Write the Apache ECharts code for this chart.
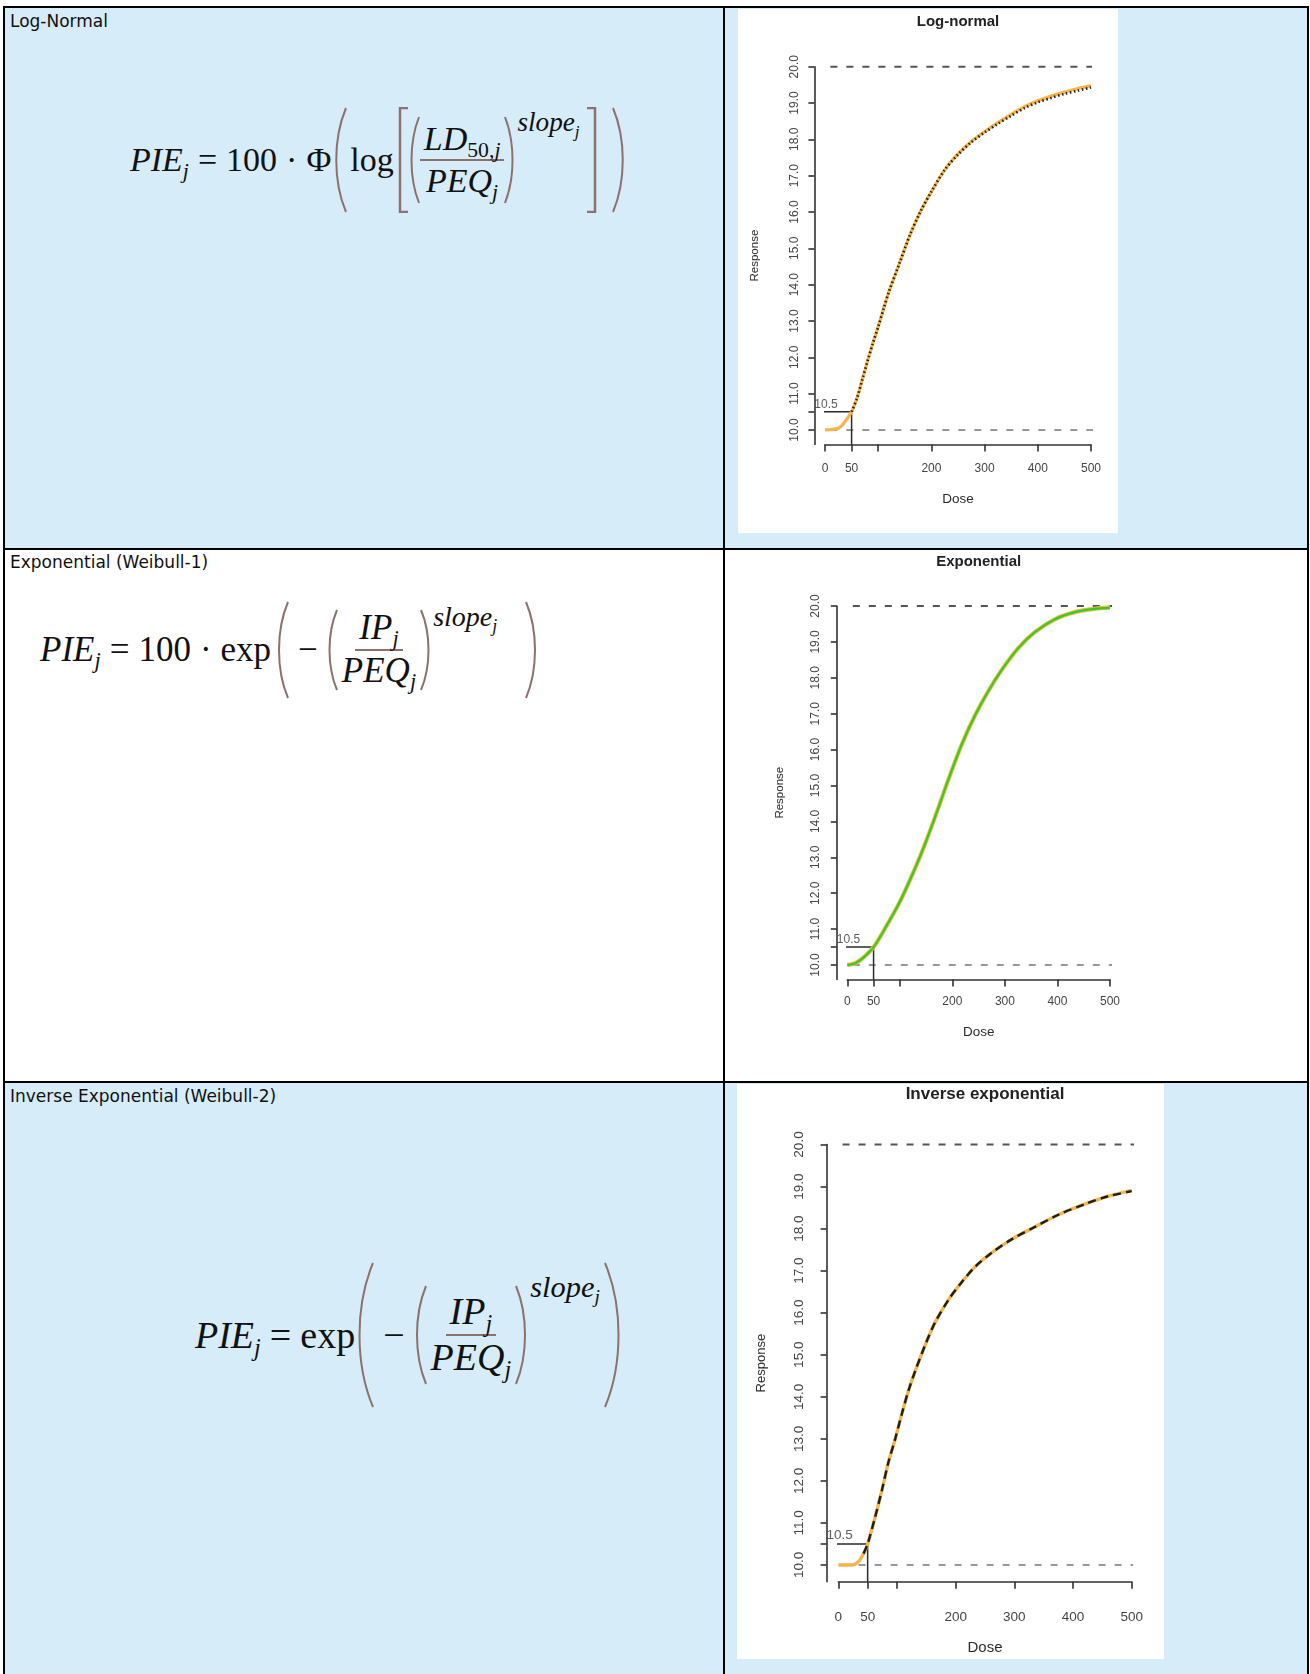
<!DOCTYPE html>
<html>
<head>
<meta charset="utf-8">
<script src="https://cdn.jsdelivr.net/npm/echarts@6/dist/echarts.min.js"></script>
<style>
  body { margin:0; width:1310px; height:1674px; position:relative; overflow:hidden; background:#fff; }
  .bg { position:absolute; }
  .bd { position:absolute; background:#000; }
  .lbl { position:absolute; left:10px; font-family:"DejaVu Sans",sans-serif; font-size:17px; line-height:20px; color:#111; }
  .f { position:absolute; display:flex; align-items:center; font-family:"Liberation Serif",serif; color:#111; white-space:nowrap; }
  .f i { font-style:italic; }
  .f sub { font-size:0.64em; vertical-align:-0.32em; line-height:0; font-style:italic; }
  .f .op { margin:0 9px; }
  .f .fn { margin:0 3px; }
  .frac { display:inline-flex; flex-direction:column; align-items:center; }
  .num { border-bottom:2px solid #8c726b; padding:0 4px 2px; line-height:1.05; }
  .den { padding:2px 4px 0; line-height:1.05; }
  .sup { align-self:flex-start; font-size:0.8em; margin:0 2px; }
  .f svg { flex:none; }
  #chart { position:absolute; left:0; top:0; width:1310px; height:1674px; }
</style>
</head>
<body>
<!-- table backgrounds -->
<div class="bg" style="left:4px;top:7px;width:1304px;height:542px;background:#d6ecf8"></div>
<div class="bg" style="left:4px;top:1082px;width:1304px;height:592px;background:#d6ecf8"></div>
<div class="bg" style="left:738px;top:9px;width:380px;height:524px;background:#fff"></div>
<div class="bg" style="left:737px;top:1084px;width:427px;height:575px;background:#fff"></div>
<!-- table borders -->
<div class="bd" style="left:3px;top:6px;width:1306px;height:2px"></div>
<div class="bd" style="left:3px;top:6px;width:2px;height:1668px"></div>
<div class="bd" style="left:1307px;top:6px;width:2px;height:1668px"></div>
<div class="bd" style="left:723px;top:6px;width:2px;height:1668px"></div>
<div class="bd" style="left:3px;top:548px;width:1306px;height:2px"></div>
<div class="bd" style="left:3px;top:1081px;width:1306px;height:2px"></div>

<div class="lbl" style="top:11px">Log-Normal</div>
<div class="lbl" style="top:552px">Exponential (Weibull-1)</div>
<div class="lbl" style="top:1086px">Inverse Exponential (Weibull-2)</div>

<div class="f" id="f1" style="left:130px;top:107px;height:106px;font-size:34px"></div>
<div class="f" id="f2" style="left:40px;top:601px;height:98px;font-size:35px"></div>
<div class="f" id="f3" style="left:195px;top:1262px;height:146px;font-size:38px"></div>

<div id="chart"></div>

<script>
// ---- data ----
var doseTicks = [0, 50, 100, 200, 300, 400, 500];
var doseLabels = [0, 50, 200, 300, 400, 500];
var respTicks = [10, 10.5, 11, 12, 13, 14, 15, 16, 17, 18, 19, 20];
var respLabels = [10, 11, 12, 13, 14, 15, 16, 17, 18, 19, 20];
var asymptotes = [10, 20];
var plotSpan = [-20, 520];      // dose range of the plotting region (abline extent)
var respFloor = 9.6;            // bottom of the plotting region
var cutDose = 50;
var cutResp = 10.5;

// Log-normal
var lnDose = [0, 25, 35, 50, 60, 70, 80, 90, 100, 110, 120, 140, 160, 180, 200, 225, 250, 275, 300, 325, 350, 375, 400, 425, 450, 475, 500];
var lnFit  = [10.0, 10.05, 10.18, 10.5, 10.87, 11.38, 11.9, 12.39, 12.84, 13.33, 13.8, 14.59, 15.38, 16.03, 16.56, 17.16, 17.6, 17.94, 18.21, 18.46, 18.69, 18.9, 19.06, 19.19, 19.3, 19.4, 19.48];
var lnRef  = [null, null, null, 10.5, 10.87, 11.38, 11.9, 12.39, 12.84, 13.33, 13.8, 14.59, 15.38, 16.03, 16.56, 17.16, 17.58, 17.92, 18.19, 18.43, 18.65, 18.86, 19.02, 19.14, 19.25, 19.34, 19.43];

// Exponential
var expDose = [0, 15, 30, 50, 75, 100, 122, 142, 167, 192, 218, 243, 268, 294, 325, 357, 395, 433, 470, 500];
var expFit  = [10.0, 10.05, 10.2, 10.5, 11.1, 11.76, 12.46, 13.15, 14.12, 15.15, 16.15, 16.95, 17.62, 18.22, 18.82, 19.27, 19.63, 19.83, 19.92, 19.96];
var expRef  = [10.0, 10.05, 10.2, 10.5, 11.1, 11.76, 12.46, 13.15, 14.12, 15.15, 16.15, 16.95, 17.62, 18.22, 18.82, 19.27, 19.63, 19.83, 19.92, 19.95];

// Inverse exponential
var invDose = [0, 23, 34, 43, 50, 62, 74, 85, 97, 108, 119, 131, 148, 165, 188, 210, 233, 261, 296, 335, 375, 420, 460, 500];
var invFit  = [10.0, 10.0, 10.07, 10.27, 10.5, 11.1, 11.76, 12.42, 13.0, 13.58, 14.12, 14.61, 15.23, 15.77, 16.31, 16.72, 17.09, 17.42, 17.75, 18.04, 18.33, 18.58, 18.77, 18.91];
var invRef  = [null, null, null, 10.27, 10.5, 11.1, 11.76, 12.42, 13.0, 13.58, 14.12, 14.61, 15.23, 15.77, 16.31, 16.72, 17.09, 17.42, 17.75, 18.04, 18.33, 18.58, 18.77, 18.89];

// ---- formulas (left column) ----
var brown = '#8c726b';
function paren(h, side) {
  var w = Math.max(11, Math.round(h * 0.13));
  var d = side === 'l'
    ? 'M' + (w - 1) + ' 1 C 0 ' + (h * 0.3) + ' 0 ' + (h * 0.7) + ' ' + (w - 1) + ' ' + (h - 1)
    : 'M1 1 C ' + w + ' ' + (h * 0.3) + ' ' + w + ' ' + (h * 0.7) + ' 1 ' + (h - 1);
  return '<svg width="' + w + '" height="' + h + '"><path d="' + d + '" fill="none" stroke="' + brown + '" stroke-width="2"/></svg>';
}
function bracket(h, side) {
  var d = side === 'l' ? 'M11 1 H3 V' + (h - 1) + ' H11' : 'M1 1 H9 V' + (h - 1) + ' H1';
  return '<svg width="12" height="' + h + '"><path d="' + d + '" fill="none" stroke="' + brown + '" stroke-width="2.5"/></svg>';
}
function frac(a, b) {
  return '<span class="frac"><span class="num">' + a + '</span><span class="den">' + b + '</span></span>';
}
function gap(w) { return '<span style="width:' + w + 'px;flex:none"></span>'; }
var pie = '<span><i>PIE</i><sub>j</sub></span><span class="op">=</span>';
var slope = '<span class="sup"><i>slope</i><sub>j</sub></span>';

document.getElementById('f1').innerHTML = pie +
  '<span>100</span><span class="op">·</span><span>Φ</span>' + gap(2) + paren(106, 'l') +
  '<span class="fn">log</span>' + bracket(106, 'l') + paren(88, 'l') +
  frac('<i>LD</i><sub style="font-style:normal">50,<i>j</i></sub>', '<i>PEQ</i><sub>j</sub>') +
  paren(88, 'r') + slope + gap(4) + bracket(106, 'r') + gap(14) + paren(106, 'r');

document.getElementById('f2').innerHTML = pie +
  '<span>100</span><span class="op">·</span><span>exp</span>' + gap(5) + paren(98, 'l') +
  '<span class="op">−</span>' + paren(82, 'l') +
  frac('<i>IP</i><sub>j</sub>', '<i>PEQ</i><sub>j</sub>') +
  paren(82, 'r') + slope + gap(26) + paren(98, 'r');

document.getElementById('f3').innerHTML = pie +
  '<span>exp</span>' + paren(146, 'l') +
  '<span class="op">−</span>' + paren(100, 'l') +
  frac('<i>IP</i><sub>j</sub>', '<i>PEQ</i><sub>j</sub>') +
  paren(100, 'r') + '<span class="sup" style="margin-top:8px"><i>slope</i><sub>j</sub></span>' +
  gap(2) + paren(146, 'r');

// ---- charts (right column) ----
var panels = [
  { title: 'Log-normal', left: 825, top: 66.7, width: 266, height: 377.8, titleTop: 14, titleSize: 15,
    fs: 12, yOff: 10.6, yMargin: 14, yGap: 54, xMargin: 18, xGap: 48,
    curves: [
      { dose: lnDose, resp: lnFit, color: '#f5b54a', width: 3.2, type: 'solid' },
      { dose: lnDose, resp: lnRef, color: '#1e1e1e', width: 2.6, type: [1.5, 2.6] }
    ] },
  { title: 'Exponential', left: 847.3, top: 606, width: 262.7, height: 373.4, titleTop: 554, titleSize: 15,
    fs: 12, yOff: 10.5, yMargin: 15.5, yGap: 51, xMargin: 16, xGap: 46,
    curves: [
      { dose: expDose, resp: expFit, color: '#efb83a', width: 4.2, type: 'solid' },
      { dose: expDose, resp: expRef, color: '#34cc2a', width: 2.2, type: 'solid' }
    ] },
  { title: 'Inverse exponential', left: 838.3, top: 1144.5, width: 293.4, height: 437.3, titleTop: 1086, titleSize: 17,
    fs: 13.5, yOff: 11.7, yMargin: 20, yGap: 59, xMargin: 28, xGap: 59,
    curves: [
      { dose: invDose, resp: invFit, color: '#f5b54a', width: 3.4, type: 'solid' },
      { dose: invDose, resp: invRef, color: '#1e1e1e', width: 2.4, type: [8, 5] }
    ] }
];

function pairs(xs, ys) {
  var out = [];
  for (var i = 0; i < xs.length; i++) {
    if (ys[i] != null) out.push([xs[i], ys[i]]);
  }
  return out;
}

var ink = '#2b2b2b';
var font = 'Liberation Sans';
var grids = [], xAxes = [], yAxes = [], titles = [], series = [];

panels.forEach(function (p, i) {
  grids.push({ left: p.left, top: p.top, width: p.width, height: p.height });
  titles.push({
    text: p.title, left: p.left + p.width / 2, top: p.titleTop, textAlign: 'center', padding: 0,
    textStyle: { fontFamily: font, fontSize: p.titleSize, fontWeight: 'bold', color: '#222' }
  });
  xAxes.push({
    gridIndex: i, type: 'value', min: 0, max: 500,
    name: 'Dose', nameLocation: 'middle', nameGap: p.xGap, nameMoveOverlap: false,
    nameTextStyle: { fontFamily: font, fontSize: p.fs + 1.5, color: ink },
    axisLine: { show: true, onZero: false, lineStyle: { color: '#333', width: 1.6 } },
    axisTick: { show: true, customValues: doseTicks, length: 7, lineStyle: { color: '#333', width: 1.6 } },
    axisLabel: { customValues: doseLabels, margin: p.xMargin, fontFamily: font, fontSize: p.fs, color: '#444' },
    splitLine: { show: false }
  });
  yAxes.push({
    gridIndex: i, type: 'value', min: respFloor, max: 20, offset: p.yOff,
    name: 'Response', nameLocation: 'middle', nameGap: p.yGap, nameRotate: 90, nameMoveOverlap: false,
    nameTextStyle: { fontFamily: font, fontSize: p.fs - 0.5, color: ink },
    axisLine: { show: true, onZero: false, lineStyle: { color: '#333', width: 1.6 } },
    axisTick: { show: true, customValues: respTicks, length: 6, lineStyle: { color: '#333', width: 1.6 } },
    axisLabel: {
      customValues: respLabels, rotate: 90, margin: p.yMargin, fontFamily: font, fontSize: p.fs, color: '#444',
      formatter: function (v) { return Number(v).toFixed(1); }
    },
    splitLine: { show: false }
  });

  // horizontal asymptotes
  asymptotes.forEach(function (lvl, k) {
    series.push({
      type: 'line', xAxisIndex: i, yAxisIndex: i, clip: false, symbol: 'none', silent: true,
      data: [[plotSpan[0], lvl], [plotSpan[1], lvl]],
      lineStyle: { color: k ? '#555' : '#777', width: k ? 2 : 1.4, type: [7, 9] }
    });
  });
  // ED 10.5 marker
  series.push({
    type: 'line', xAxisIndex: i, yAxisIndex: i, clip: false, symbol: 'none', silent: true,
    data: [[plotSpan[0], cutResp], [cutDose, cutResp], [cutDose, respFloor]],
    lineStyle: { color: '#2a2a2a', width: 1.5 }
  });
  series.push({
    type: 'scatter', xAxisIndex: i, yAxisIndex: i, clip: false, silent: true, symbolSize: 1,
    itemStyle: { color: 'rgba(0,0,0,0)' },
    data: [[plotSpan[0], cutResp]],
    label: {
      show: true, position: 'top', align: 'left', distance: 1, formatter: String(cutResp),
      fontFamily: font, fontSize: p.fs, color: '#333'
    }
  });
  // fitted curves
  p.curves.forEach(function (c) {
    series.push({
      type: 'line', xAxisIndex: i, yAxisIndex: i, symbol: 'none', smooth: 0.3, silent: true,
      data: pairs(c.dose, c.resp),
      lineStyle: { color: c.color, width: c.width, type: c.type }
    });
  });
});

var chart = echarts.init(document.getElementById('chart'));
chart.setOption({
  animation: false,
  backgroundColor: 'transparent',
  title: titles,
  grid: grids,
  xAxis: xAxes,
  yAxis: yAxes,
  series: series
});
</script>
</body>
</html>
